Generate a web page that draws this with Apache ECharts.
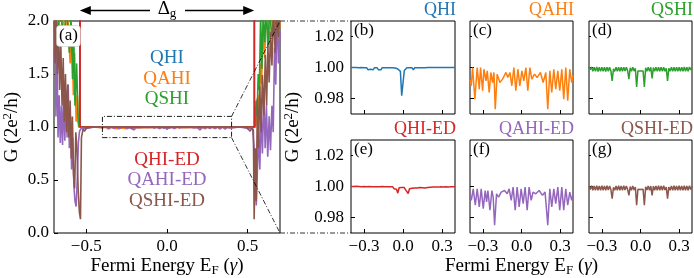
<!DOCTYPE html>
<html><head><meta charset="utf-8">
<script src="https://cdn.jsdelivr.net/npm/echarts@6/dist/echarts.min.js"></script>
<style>html,body{margin:0;padding:0;background:#fff}#c{width:694px;height:278px}</style>
</head><body><div id="c"></div>
<script>
// ---------------- DATA ----------------
const seriesNames = ['QHI','QAHI','QSHI','QHI-ED','QAHI-ED','QSHI-ED'];
const mainXTicks = [-0.5, 0.0, 0.5];
const mainYTicks = [0.0, 0.5, 1.0, 1.5, 2.0];
const insetXTicks = [-0.3, 0.0, 0.3];
const insetYTicks = [0.98, 1.00, 1.02];
const zoomBoxX = [-0.4, 0.4];
const zoomBoxY = [0.9, 1.1];
const gapEdges = [-0.54, 0.54];

// shared sampling of the zoomed window
const insetX = [-0.40,-0.39,-0.38,-0.37,-0.36,-0.35,-0.34,-0.33,-0.32,-0.31,-0.30,-0.29,-0.28,-0.27,-0.26,-0.25,-0.24,-0.23,-0.22,-0.21,
 -0.20,-0.19,-0.18,-0.17,-0.16,-0.15,-0.14,-0.13,-0.12,-0.11,-0.10,-0.09,-0.08,-0.07,-0.06,-0.05,-0.04,-0.03,-0.02,-0.01,
 0.00,0.01,0.02,0.03,0.04,0.05,0.06,0.07,0.08,0.09,0.10,0.11,0.12,0.13,0.14,0.15,0.16,0.17,0.18,0.19,
 0.20,0.21,0.22,0.23,0.24,0.25,0.26,0.27,0.28,0.29,0.30,0.31,0.32,0.33,0.34,0.35,0.36,0.37,0.38,0.39,0.40];

const qhiInsetY = [1.0000,0.9995,1.0000,0.9993,1.0000,0.9996,0.9999,0.9992,1.0000,0.9995,
 0.9998,0.9990,0.9999,0.9986,0.9998,0.9988,0.9999,0.9985,0.9998,0.9987,
 0.9999,0.9986,0.9997,0.9985,0.9999,0.9987,0.9998,0.9986,0.9999,0.9988,
 0.9999,0.9987,0.9998,0.9990,0.9997,0.9985,0.9990,0.9985,0.9975,0.9818,
 0.9818,0.9980,0.9988,0.9998,0.9986,0.9999,0.9987,0.9998,0.9985,0.9999,
 0.9988,0.9998,0.9986,0.9999,0.9987,0.9998,0.9988,0.9999,0.9990,1.0000,
 0.9991,1.0000,0.9993,1.0000,0.9992,1.0000,0.9995,1.0000,0.9994,1.0000,
 0.9996,1.0000,0.9995,1.0000,0.9996,1.0000,0.9995,1.0000,0.9997,1.0000,1.0000];

const qhiedInsetY = [1.0000,0.9998,1.0000,0.9997,1.0001,0.9998,1.0000,0.9997,0.9999,0.9996,
 1.0000,0.9994,0.9999,0.9997,1.0000,0.9996,0.9999,0.9993,0.9999,0.9990,
 0.9998,0.9992,0.9999,0.9995,1.0000,0.9994,0.9998,0.9992,0.9999,0.9989,
 0.9998,0.9990,0.9999,0.9986,0.9997,0.9982,0.9957,0.9992,0.9980,0.9994,
 0.9990,0.9993,0.9978,0.9988,0.9955,0.9985,0.9996,0.9988,0.9998,0.9991,
 0.9999,0.9990,0.9998,0.9993,1.0000,0.9992,0.9998,0.9990,0.9999,0.9993,
 1.0000,0.9995,0.9999,0.9996,1.0000,0.9997,1.0000,0.9996,1.0000,0.9998,
 1.0000,0.9997,1.0000,0.9998,1.0001,0.9997,1.0000,0.9998,1.0000,0.9999,1.0000];

const qshiInsetY = [1.0002,0.9986,1.0003,0.9975,1.0002,0.9976,1.0003,0.9974,1.0002,0.9975,
 1.0001,0.9976,1.0002,0.9974,1.0001,0.9976,1.0002,0.9978,0.9914,0.9992,
 0.9975,1.0002,0.9976,1.0001,0.9975,1.0002,0.9976,1.0001,0.9977,1.0001,
 0.9980,0.9925,0.9998,0.9976,1.0001,0.9977,0.9995,0.9875,0.9978,0.9982,
 0.9978,0.9982,0.9978,0.9875,0.9998,0.9976,1.0002,0.9975,1.0001,0.9930,
 1.0000,0.9976,1.0002,0.9975,1.0001,0.9976,1.0002,0.9975,1.0001,0.9976,
 0.9995,0.9914,0.9995,0.9976,1.0002,0.9975,1.0001,0.9976,1.0002,0.9975,
 1.0001,0.9976,1.0002,0.9975,1.0003,0.9976,1.0002,0.9975,1.0003,0.9985,1.0002];

const qshiedInsetY = [1.0004,0.9980,1.0005,0.9976,1.0004,0.9975,1.0005,0.9976,1.0004,0.9975,
 1.0005,0.9976,1.0004,0.9975,1.0005,0.9977,1.0004,0.9980,0.9921,0.9995,
 0.9976,1.0004,0.9975,1.0005,0.9976,1.0004,0.9975,1.0005,0.9977,1.0003,
 0.9982,0.9943,1.0000,0.9976,1.0004,0.9978,0.9996,0.9879,0.9982,0.9984,
 0.9981,0.9984,0.9982,0.9879,0.9998,0.9977,1.0004,0.9975,1.0003,0.9943,
 1.0002,0.9976,1.0004,0.9975,1.0005,0.9976,1.0004,0.9975,1.0005,0.9977,
 0.9996,0.9921,0.9996,0.9976,1.0004,0.9975,1.0005,0.9976,1.0004,0.9975,
 1.0005,0.9976,1.0004,0.9975,1.0005,0.9976,1.0004,0.9975,1.0005,0.9980,1.0004];

const qahiInsetX = [-0.400,-0.390,-0.380,-0.362,-0.344,-0.328,-0.318,-0.302,-0.292,-0.276,-0.266,-0.251,-0.238,-0.225,-0.214,-0.204,
 -0.189,-0.168,-0.147,-0.121,-0.106,-0.090,-0.075,-0.059,-0.044,-0.028,-0.013,0.003,0.018,0.034,0.049,0.065,0.080,
 0.101,0.121,0.147,0.168,0.189,0.204,0.220,0.235,0.251,0.266,0.282,0.297,0.313,0.328,0.344,0.359,0.375,0.390,0.400];
const qahiInsetY = [0.9920,0.9882,1.0000,0.9796,1.0000,0.9860,1.0000,0.9850,0.9989,0.9914,0.9978,0.9839,0.9968,0.9903,0.9968,0.9731,
 0.9957,0.9903,0.9925,0.9968,0.9935,0.9968,0.9882,1.0000,0.9850,0.9989,0.9882,0.9978,0.9914,1.0000,0.9850,1.0000,0.9925,
 0.9957,0.9935,0.9968,0.9903,0.9968,0.9731,0.9978,0.9839,0.9989,0.9860,0.9978,0.9850,0.9989,0.9796,1.0000,0.9785,0.9989,0.9903,0.9950];

const qahiedInsetX = [-0.400,-0.390,-0.375,-0.359,-0.344,-0.328,-0.313,-0.297,-0.282,-0.271,-0.261,-0.245,-0.230,-0.220,-0.209,
 -0.194,-0.178,-0.158,-0.132,-0.111,-0.096,-0.080,-0.065,-0.049,-0.034,-0.018,-0.003,0.013,0.028,0.044,0.059,0.075,0.090,
 0.111,0.137,0.163,0.183,0.204,0.220,0.235,0.251,0.266,0.282,0.297,0.313,0.328,0.344,0.359,0.375,0.390,0.400];
const qahiedInsetY = [0.9950,0.9911,0.9985,0.9879,0.9985,0.9868,0.9985,0.9857,0.9974,0.9900,0.9974,0.9847,0.9974,0.9932,0.9751,
 0.9953,0.9932,0.9964,0.9974,0.9953,0.9985,0.9911,0.9996,0.9847,0.9996,0.9868,0.9985,0.9889,0.9996,0.9847,0.9996,0.9911,0.9964,
 0.9953,0.9974,0.9943,0.9964,0.9751,0.9985,0.9868,0.9985,0.9889,0.9996,0.9847,0.9996,0.9847,0.9985,0.9879,0.9964,0.9911,0.9950];

// band edges of the wide view
const qhiLeftX = [-0.70,-0.54,-0.54,-0.45];
const qhiLeftY = [2.3,2.3,1.0,1.0];
const qhiRightX = [0.45,0.54,0.54,0.70];
const qhiRightY = [1.0,1.0,2.3,2.3];

const qahiLeftX = [-0.700,-0.695,-0.685,-0.675,-0.660,-0.645,-0.630,-0.615,-0.600,-0.590,-0.580,-0.572,-0.563,-0.555,-0.548,-0.530,-0.450];
const qahiLeftY = [1.75,2.1,1.8,2.1,1.85,2.1,1.8,2.05,1.6,1.95,1.3,1.7,1.05,1.3,1.0,0.998,1.0];
const qahiRightX = [0.450,0.530,0.548,0.555,0.563,0.570,0.578,0.586,0.595,0.605,0.615,0.630,0.645,0.660,0.675,0.690,0.700];
const qahiRightY = [1.0,0.998,1.0,1.05,1.3,1.1,1.6,1.4,1.95,1.65,2.1,1.8,2.1,1.85,2.1,1.8,2.0];

const qshiLeftX = [-0.700,-0.680,-0.660,-0.640,-0.620,-0.605,-0.595,-0.585,-0.578,-0.570,-0.560,-0.550,-0.542,-0.450];
const qshiLeftY = [2.1,1.9,2.1,1.85,2.1,1.7,2.05,1.45,1.9,1.2,1.6,1.05,1.0,1.0];
const qshiRightX = [0.450,0.545,0.552,0.558,0.565,0.572,0.580,0.588,0.596,0.605,0.615,0.625,0.635,0.650,0.665,0.680,0.700];
const qshiRightY = [1.0,1.0,1.25,1.1,1.5,1.35,2.05,1.55,2.1,1.8,2.1,1.75,2.1,1.85,2.1,1.9,2.1];

const qhiedLeftX = [-0.700,-0.538,-0.538,-0.450];
const qhiedLeftY = [2.3,2.3,1.0,1.0];
const qhiedRightX = [0.450,0.542,0.542,0.700];
const qhiedRightY = [1.0,1.0,2.3,2.3];

const qahiedLeftX = [-0.700,-0.694,-0.688,-0.682,-0.675,-0.668,-0.661,-0.654,-0.647,-0.640,-0.633,-0.626,-0.619,-0.612,-0.605,-0.598,-0.591,-0.584,-0.577,-0.570,-0.563,-0.556,-0.549,-0.542,-0.530,-0.500,-0.450];
const qahiedLeftY = [1.6,2.2,1.1,1.85,0.9,1.3,0.85,1.2,0.83,1.3,0.87,1.35,0.9,1.4,0.8,1.1,0.6,0.9,0.45,0.3,0.25,0.5,0.85,0.96,0.99,0.985,1.0];
const qahiedRightX = [0.450,0.500,0.530,0.540,0.547,0.553,0.560,0.567,0.575,0.583,0.591,0.600,0.608,0.616,0.624,0.633,0.641,0.650,0.658,0.666,0.674,0.682,0.690,0.700];
const qahiedRightY = [1.0,0.985,0.99,0.8,0.45,0.26,0.6,0.95,0.6,1.15,0.75,1.3,0.8,1.2,0.72,1.1,0.78,1.2,0.95,1.75,1.4,2.2,1.6,1.9];

const qshiedLeftX = [-0.700,-0.693,-0.686,-0.679,-0.672,-0.665,-0.658,-0.650,-0.643,-0.636,-0.629,-0.622,-0.615,-0.608,-0.600,-0.593,-0.586,-0.579,-0.572,-0.565,-0.558,-0.550,-0.543,-0.536,-0.530,-0.520,-0.510,-0.500,-0.450];
const qshiedLeftY = [2.1,1.6,2.1,1.5,1.9,1.35,1.8,1.2,1.65,1.05,1.5,0.95,1.4,0.9,1.25,0.7,1.1,0.55,0.42,0.95,0.8,0.4,0.2,0.13,0.9,0.98,0.96,0.99,1.0];
const qshiedRightX = [0.450,0.490,0.500,0.515,0.525,0.535,0.540,0.547,0.553,0.560,0.567,0.575,0.583,0.591,0.600,0.609,0.617,0.625,0.633,0.641,0.650,0.660,0.670,0.680,0.690,0.700];
const qshiedRightY = [1.0,1.0,0.985,0.96,0.99,0.97,0.13,0.8,0.3,1.27,0.8,1.39,0.95,1.49,1.11,1.68,1.2,1.77,1.42,1.9,1.58,2.1,1.7,2.1,1.85,2.1];

// ---------------- STYLE / LAYOUT ----------------
const COLORS = ['#1f77b4','#ff7f0e','#2ca02c','#d62728','#9467bd','#8c564b'];
const FONT = 'Liberation Serif';
const GRIDS = [
  {left:54, top:21, width:226, height:212},
  {left:351, top:21, width:104, height:93},
  {left:470, top:21, width:103, height:93},
  {left:589, top:21, width:103, height:93},
  {left:351, top:140, width:104, height:93},
  {left:470, top:140, width:103, height:93},
  {left:589, top:140, width:103, height:93}
];
const zip = (xs, ys) => xs.map((x, i) => [x, ys[i]]);
const fmtSigned = d => v => (v < -1e-9 ? '\u2212' : '') + Math.abs(v).toFixed(d);

const mainParts = [
  [qhiLeftX,qhiLeftY,insetX,qhiInsetY,qhiRightX,qhiRightY],
  [qahiLeftX,qahiLeftY,qahiInsetX,qahiInsetY,qahiRightX,qahiRightY],
  [qshiLeftX,qshiLeftY,insetX,qshiInsetY,qshiRightX,qshiRightY],
  [qhiedLeftX,qhiedLeftY,insetX,qhiedInsetY,qhiedRightX,qhiedRightY],
  [qahiedLeftX,qahiedLeftY,qahiedInsetX,qahiedInsetY,qahiedRightX,qahiedRightY],
  [qshiedLeftX,qshiedLeftY,insetX,qshiedInsetY,qshiedRightX,qshiedRightY]
];

const tickStyle = {show:true, inside:true, length:4, lineStyle:{color:'#000', width:1}};
const labelBase = {color:'#000', fontFamily:FONT, fontSize:17};
const noLine = {show:false, onZero:false};

const xAxes = GRIDS.map((g, i) => {
  const main = i === 0;
  const ticks = main ? mainXTicks : insetXTicks;
  return {
    type:'value', gridIndex:i, min: main ? -0.7 : -0.4, max: main ? 0.7 : 0.4,
    axisLine:noLine, splitLine:{show:false},
    axisTick:Object.assign({customValues:ticks}, tickStyle),
    axisLabel:Object.assign({show: main || i >= 4, customValues:ticks, margin:5, formatter:fmtSigned(1)}, labelBase)
  };
});
const yAxes = GRIDS.map((g, i) => {
  const main = i === 0;
  if (main) return {
    type:'value', gridIndex:0, min:0, max:2, interval:0.5,
    axisLine:noLine, splitLine:{show:false},
    axisTick:tickStyle,
    axisLabel:Object.assign({margin:5, formatter:v => v.toFixed(1)}, labelBase)
  };
  return {
    type:'value', gridIndex:i, min:0.97, max:1.03,
    axisLine:noLine, splitLine:{show:false},
    axisTick:Object.assign({customValues:insetYTicks}, tickStyle),
    axisLabel:Object.assign({show: i === 1 || i === 4, customValues:insetYTicks, margin:7, formatter:v => v.toFixed(2)}, labelBase)
  };
});

const series = [];
mainParts.forEach((p, k) => {
  series.push({
    type:'line', xAxisIndex:0, yAxisIndex:0, symbol:'none', clip:true,
    data: zip(p[0],p[1]).concat(zip(p[2],p[3])).concat(zip(p[4],p[5])),
    lineStyle:{color:COLORS[k], width:1.6}, itemStyle:{color:COLORS[k]}, z:2+k
  });
});
mainParts.forEach((p, k) => {
  series.push({
    type:'line', xAxisIndex:k+1, yAxisIndex:k+1, symbol:'none', clip:true,
    data: zip(p[2],p[3]),
    lineStyle:{color:COLORS[k], width:1.5}, itemStyle:{color:COLORS[k]}
  });
});
const dashDot = [5,2,1,2];
series.push({
  type:'line', xAxisIndex:0, yAxisIndex:0, symbol:'none', z:20,
  data:[[zoomBoxX[0],zoomBoxY[0]],[zoomBoxX[1],zoomBoxY[0]],[zoomBoxX[1],zoomBoxY[1]],[zoomBoxX[0],zoomBoxY[1]],[zoomBoxX[0],zoomBoxY[0]]],
  lineStyle:{color:'#000', width:0.9, type:dashDot}
});
series.push({
  type:'line', xAxisIndex:0, yAxisIndex:0, symbol:'none', z:20,
  data:[[zoomBoxX[1],zoomBoxY[1]],[0.7,2.0]], lineStyle:{color:'#000', width:0.8, type:dashDot}
});
series.push({
  type:'line', xAxisIndex:0, yAxisIndex:0, symbol:'none', z:20,
  data:[[zoomBoxX[1],zoomBoxY[0]],[0.7,0.0]], lineStyle:{color:'#000', width:0.8, type:dashDot}
});

const chart = echarts.init(document.getElementById('c'), null, {renderer:'canvas', width:694, height:278});
chart.setOption({
  animation:false, backgroundColor:'#fff',
  grid: GRIDS.map(g => Object.assign({show:true, borderColor:'#000', borderWidth:1, backgroundColor:'transparent', containLabel:false}, g)),
  xAxis:xAxes, yAxis:yAxes, series:series
});

// ---------------- ANNOTATIONS ----------------
const P = (x, y) => chart.convertToPixel({gridIndex:0}, [x, y]);
const g0 = GRIDS[0];
const cx0 = P(0, 1)[0];
const gr = [];
const txt = (x, y, text, color, size, align, extra) => Object.assign({
  type:'text', x:x, y:y, z:100,
  style:Object.assign({text:text, fill:color, fontFamily:FONT, fontSize:size, align:align || 'center', verticalAlign:'middle'}, extra || {})
});
// series labels in panel (a)
const labY = [58.5, 79.5, 99.5, 160, 180.5, 201];
seriesNames.forEach((n, k) => gr.push(txt(cx0, labY[k], n, COLORS[k], 19)));
// panel titles
for (let k = 0; k < 6; k++) {
  const g = GRIDS[k+1];
  gr.push(txt(g.left + g.width + 1, g.top - 11, seriesNames[k], COLORS[k], 18, 'right'));
}
// panel letters
const letters = ['(a)','(b)','(c)','(d)','(e)','(f)','(g)'];
GRIDS.forEach((g, i) => {
  gr.push(txt(g.left + (i === 0 ? 3 : 2), g.top + (i === 0 ? 15 : 10), letters[i], '#000', 17, 'left',
    {backgroundColor:'#fff', padding: i === 0 ? [2,2,1,2] : [0,1,0,1], borderRadius:3,
     borderColor: i === 0 ? '#d8d8d8' : 'transparent', borderWidth: i === 0 ? 0.8 : 0}));
});
// gap arrow
const aL = P(gapEdges[0], 2)[0], aR = P(gapEdges[1], 2)[0];
const ay = 10.5;
gr.push({type:'line', z:100, shape:{x1:aL+8, y1:ay, x2:cx0-17, y2:ay}, style:{stroke:'#000', lineWidth:1.3}});
gr.push({type:'line', z:100, shape:{x1:cx0+18, y1:ay, x2:aR-8, y2:ay}, style:{stroke:'#000', lineWidth:1.3}});
gr.push({type:'polygon', z:100, shape:{points:[[aL,ay],[aL+11,ay-4.5],[aL+11,ay+4.5]]}, style:{fill:'#000'}});
gr.push({type:'polygon', z:100, shape:{points:[[aR,ay],[aR-11,ay-4.5],[aR-11,ay+4.5]]}, style:{fill:'#000'}});
const subRich = {
  n:{fontFamily:FONT, fontSize:19, lineHeight:22, fill:'#000', verticalAlign:'middle'},
  s:{fontFamily:FONT, fontSize:13, lineHeight:13, fill:'#000', verticalAlign:'bottom'},
  p:{fontFamily:FONT, fontSize:13, lineHeight:13, fill:'#000', verticalAlign:'top'},
  g:{fontFamily:FONT, fontSize:19, lineHeight:22, fontStyle:'italic', fill:'#000', verticalAlign:'middle'}
};
gr.push(txt(cx0, 9, '{n|\u0394}{s|g}', '#000', 19, 'center', {rich:subRich}));
// axis names
const xName = '{n|Fermi Energy E}{s|F}{n| (}{g|\u03b3}{n|)}';
const yName = '{n|G (2e}{p|2}{n|/h)}';
gr.push(txt(g0.left + g0.width/2, 266, xName, '#000', 19, 'center', {rich:subRich}));
const rightMid = (GRIDS[1].left + GRIDS[3].left + GRIDS[3].width) / 2;
gr.push(txt(rightMid, 266, xName, '#000', 19, 'center', {rich:subRich}));
gr.push(Object.assign(txt(12, 127, yName, '#000', 19, 'center', {rich:subRich}), {rotation:Math.PI/2}));
gr.push(Object.assign(txt(293, 127, yName, '#000', 19, 'center', {rich:subRich}), {rotation:Math.PI/2}));
// horizontal connectors toward the zoomed panels
const xr = g0.left + g0.width;
gr.push({type:'line', z:100, shape:{x1:xr, y1:g0.top, x2:GRIDS[1].left, y2:g0.top}, style:{stroke:'#000', lineWidth:0.8, lineDash:dashDot}});
gr.push({type:'line', z:100, shape:{x1:xr, y1:g0.top+g0.height, x2:GRIDS[4].left, y2:g0.top+g0.height}, style:{stroke:'#000', lineWidth:0.8, lineDash:dashDot}});

chart.setOption({graphic:gr});
</script></body></html>
